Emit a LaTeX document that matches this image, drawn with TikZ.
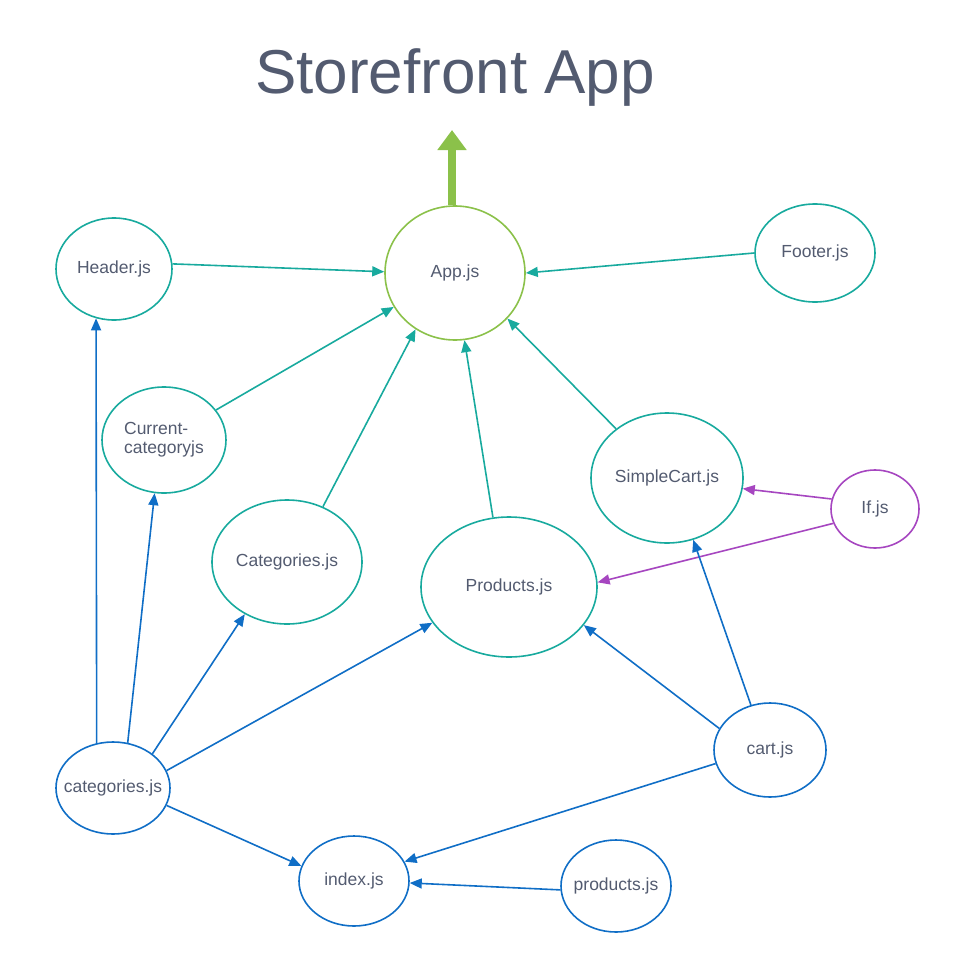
\documentclass[tikz,border=0pt]{standalone}
\usepackage{fontspec}
\setmainfont{Liberation Sans}
\usetikzlibrary{shapes.geometric,arrows.meta}
\definecolor{teal1}{RGB}{24,170,158}
\definecolor{blue1}{RGB}{16,110,198}
\definecolor{purp1}{RGB}{166,70,192}
\definecolor{green1}{RGB}{139,193,74}
\definecolor{txt}{RGB}{83,91,112}
\newcommand{\zb}[1]{\makebox[0pt][c]{#1}}
\tikzset{
  fnode/.style={ellipse, draw, line width=1.6pt, inner sep=0pt, text=txt,
    font=\fontsize{17.5}{19}\selectfont, align=left},
  tealn/.style={fnode, draw=teal1},
  bluen/.style={fnode, draw=blue1},
  purpn/.style={fnode, draw=purp1},
  greenn/.style={fnode, draw=green1},
  edge/.style={line width=1.6pt, -{Triangle[length=12pt,width=10pt]}},
  tealedge/.style={edge, draw=teal1, fill=teal1},
  blueedge/.style={edge, draw=blue1, fill=blue1},
  purpedge/.style={edge, draw=purp1, fill=purp1},
}
\begin{document}
\begin{tikzpicture}[x=1pt,y=-1pt]
\useasboundingbox (0,0) rectangle (968,971);
\node[text=txt, font=\fontsize{62}{62}\selectfont, anchor=base] (title) at (455,94) {Storefront App};

\node[greenn, minimum width=140pt, minimum height=134pt] (app) at (455,273) {\zb{App.js}};
\node[tealn, minimum width=116pt, minimum height=102pt] (header) at (114,269) {\zb{Header.js}};
\node[tealn, minimum width=120pt, minimum height=98pt] (footer) at (815,253) {\zb{Footer.js}};
\node[tealn, minimum width=124pt, minimum height=106pt] (current) at (164,440) {Current-\\categoryjs};
\node[tealn, minimum width=150pt, minimum height=124pt] (categories) at (287,562) {\zb{Categories.js}};
\node[tealn, minimum width=176pt, minimum height=140pt] (products) at (509,587) {\zb{Products.js}};
\node[tealn, minimum width=152pt, minimum height=130pt] (simplecart) at (667,478) {\zb{SimpleCart.js}};
\node[purpn, minimum width=88pt, minimum height=78pt] (if) at (875,509) {\zb{If.js}};
\node[bluen, minimum width=112pt, minimum height=94pt] (cart) at (770,750) {\zb{cart.js}};
\node[bluen, minimum width=114pt, minimum height=92pt] (categoriesjs) at (113,788) {\zb{categories.js}};
\node[bluen, minimum width=110pt, minimum height=90pt] (index) at (354,881) {\zb{index.js}};
\node[bluen, minimum width=110pt, minimum height=92pt] (productsjs) at (616,886) {\zb{products.js}};

% green output arrow
\coordinate (gtop) at (452,130);
\draw[green1, line width=8pt, -{Triangle[length=20pt,width=28pt]}] (app.north -| gtop) -- (gtop);

% teal edges to App
\draw[tealedge] (header.5) -- (app.179);
\draw[tealedge] (footer.180) -- (app.0);
\draw[tealedge] (current.30) -- (app.209);
\draw[tealedge] (categories.57) -- (app.235);
\draw[tealedge] (products.103) -- (app.278);
\draw[tealedge] (simplecart.136) -- (app.319);

% purple edges
\draw[purpedge] (if.167) -- (simplecart.352);
\draw[purpedge] (if.199) -- (products.3);

% blue edges
\draw[blueedge] (categoriesjs.110) -- (header.250);
\draw[blueedge] (categoriesjs.72) -- (current.260);
\draw[blueedge] (categoriesjs.41) -- (categories.231);
\draw[blueedge] (categoriesjs.18) -- (products.205);
\draw[blueedge] (categoriesjs.342) -- (index.164);
\draw[blueedge] (cart.157) -- (products.333);
\draw[blueedge] (cart.113) -- (simplecart.293);
\draw[blueedge] (cart.194) -- (index.21);
\draw[blueedge] (productsjs.184) -- (index.358);
\end{tikzpicture}
\end{document}
